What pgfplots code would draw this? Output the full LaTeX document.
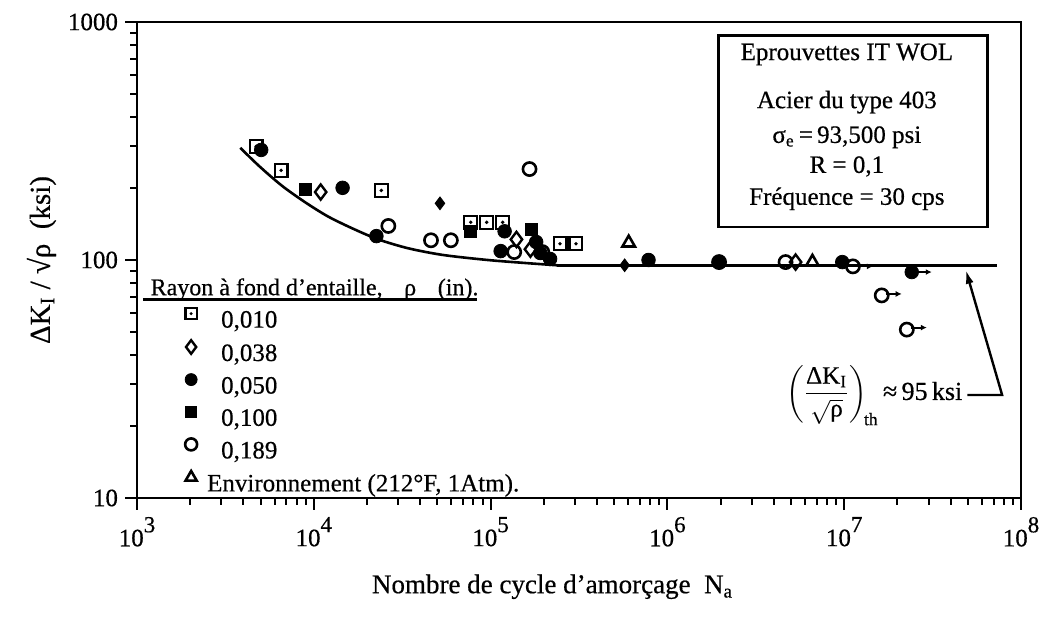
\documentclass[border=0pt]{standalone}
\usepackage{fontspec}
\setmainfont{Liberation Serif}[FakeBold=0.5]
\usepackage{amsmath}
\usepackage{pgfplots}
\pgfplotsset{compat=1.18}
\usetikzlibrary{arrows.meta}

\pgfdeclareplotmark{sqdot}{%
  \pgfpathrectangle{\pgfpoint{-\pgfplotmarksize}{-\pgfplotmarksize}}{\pgfpoint{2\pgfplotmarksize}{2\pgfplotmarksize}}%
  \pgfusepathqstroke
  \pgfpathcircle{\pgfpointorigin}{0.3\pgfplotmarksize}%
  \pgfusepathqfill}

\newcommand\pw[1]{10\raisebox{7pt}{\fontsize{11.5}{12}\selectfont #1}}

\begin{document}
\begin{tikzpicture}
\begin{axis}[
  at={(0,0)}, anchor=south west,
  scale only axis, width=442pt, height=238pt,
  xmode=log, ymode=log,
  xmin=1e3, xmax=1e8, ymin=10, ymax=1000,
  axis line style={line width=1.3pt},
  tick pos=left, tick align=outside,
  major tick length=6pt, minor tick length=3.5pt,
  every tick/.style={line width=1pt, black},
  xtick={1e3,1e4,1e5,1e6,1e7,1e8},
  xticklabels={\pw{3},\pw{4},\pw{5},\pw{6},\pw{7},\pw{8}},
  minor xtick={2e3,3e3,4e3,5e3,6e3,7e3,8e3,9e3,2e4,3e4,4e4,5e4,6e4,7e4,8e4,9e4,2e5,3e5,4e5,5e5,6e5,7e5,8e5,9e5,2e6,3e6,4e6,5e6,6e6,7e6,8e6,9e6,2e7,3e7,4e7,5e7,6e7,7e7,8e7,9e7},
  ytick={10,100,1000}, yticklabels={10,100,1000},
  minor ytick={20,30,40,50,60,70,80,90,200,300,400,500,600,700,800,900},
  tick label style={font=\fontsize{12.5}{14}\selectfont},
  xlabel={Nombre de cycle d'amorçage\ \ N\textsubscript{a}},
  xlabel style={at={(axis description cs:0.47,-0.2)}, anchor=base, font=\fontsize{13.5}{16}\selectfont},
  ylabel={ΔK\textsubscript{I} / √ρ\ \ (ksi)},
  ylabel style={at={(axis description cs:-0.108,0.5)}, anchor=center, font=\fontsize{14.5}{17}\selectfont},
  legend image code/.code={\draw[#1] plot coordinates {(0pt,4pt)};},
  legend cell align=left,
  legend style={draw=none, fill=none, at={(axis description cs:0.054,0.400)}, anchor=north west,
    inner sep=0pt, column sep=12pt, row sep=3.3pt,
    nodes={inner sep=0pt, text height=9pt, text depth=3pt},
    font=\fontsize{12.5}{15}\selectfont},
]
% threshold curve
\addplot[black, line width=1.3pt, smooth, forget plot] coordinates {
 (3840,296) (4910,248) (6610,205) (9020,174) (12100,152) (16800,135)
 (23200,122) (34200,112) (53700,105) (96200,100) (161000,97) (238000,95)};
\addplot[black, line width=1.3pt, forget plot] coordinates {(238000,95) (7.3e7,95)};

% run-out arrows
\foreach \px/\py in {1.12e7/94, 1.63e7/72, 2.41e7/89, 2.26e7/52}{
  \edef\tmp{\noexpand\draw[line width=1pt, -{Latex[length=3pt,width=3pt]}] ([xshift=2pt]axis cs:\px,\py) -- ([xshift=10pt]axis cs:\px,\py);}\tmp
}

% 0,010 open squares with dot
\addplot[only marks, mark=sqdot, mark size=3.2pt, line width=1.1pt, mark options={fill=black}, forget plot] coordinates {
 (4720,300) (6530,238) (24100,196) (77200,144) (95000,144) (117000,144) (247000,117) (304000,117)};
% 0,050 filled circles
\addplot[only marks, mark=*, mark size=3.4pt, forget plot] coordinates {
 (5040,290) (14550,201) (22600,126) (120000,132) (114000,109) (181000,119) (191000,107) (217000,101)
 (782000,100) (1.96e6,98) (9.75e6,98) (2.41e7,89)};
% 0,100 filled squares
\addplot[only marks, mark=square*, mark size=3.0pt, forget plot] coordinates {
 (9020,198) (77200,132) (170000,134)};
% small filled diamonds
\addplot[only marks, mark=diamond*, mark size=3.2pt, forget plot] coordinates {
 (51700,173) (5.73e5,95)};
% 0,038 open diamonds
\addplot[only marks, mark=diamond, mark size=3.8pt, line width=1.2pt, mark options={fill=white}, forget plot] coordinates {
 (10940,193) (140000,122) (168000,111) (5.31e6,98)};
% 0,189 open circles
\addplot[only marks, mark=o, mark size=3.3pt, line width=1.3pt, mark options={fill=white}, forget plot] coordinates {
 (26400,139) (46000,121) (59600,121) (136000,108) (196000,108) (166000,241)
 (1.96e6,98) (4.66e6,98) (1.12e7,94) (1.63e7,71) (2.26e7,51)};
% environment triangles
\addplot[only marks, mark=triangle, mark size=3.6pt, line width=1.3pt, mark options={fill=white}, forget plot] coordinates {
 (6.04e5,118) (6.61e6,98)};

% legend
\addlegendimage{only marks, mark=sqdot, mark size=2.8pt, line width=1.1pt, mark options={fill=black}}
\addlegendentry{0,010}
\addlegendimage{only marks, mark=diamond, mark size=3.4pt, line width=1.2pt}
\addlegendentry{0,038}
\addlegendimage{only marks, mark=*, mark size=3pt}
\addlegendentry{0,050}
\addlegendimage{only marks, mark=square*, mark size=2.8pt}
\addlegendentry{0,100}
\addlegendimage{only marks, mark=o, mark size=3pt, line width=1.3pt}
\addlegendentry{0,189}
\addlegendimage{only marks, mark=triangle, mark size=3.2pt, line width=1.3pt}
\addlegendentry{\hspace*{-7pt}Environnement (212°F, 1Atm).}

% legend title
\node[anchor=base west, inner sep=0pt, font=\fontsize{12}{14}\selectfont] at (axis description cs:0.015,0.426)
  {Rayon à fond d'entaille,\hspace{0.9em}ρ\hspace{0.9em}(in).};
\draw[line width=1.3pt] (axis description cs:0.0067,0.417) -- (axis description cs:0.385,0.417);

% info box
\draw[line width=1.3pt] (axis description cs:0.658,0.569) rectangle (axis description cs:0.962,0.972);
\begin{scope}[every node/.style={anchor=base, inner sep=0pt, font=\fontsize{12.5}{15}\selectfont}]
\node at (axis description cs:0.803,0.920) {Eprouvettes IT WOL};
\node at (axis description cs:0.803,0.819) {Acier du type 403};
\node at (axis description cs:0.803,0.746) {σ\textsubscript{e}\,=\,93,500 psi};
\node at (axis description cs:0.803,0.683) {R = 0,1};
\node at (axis description cs:0.803,0.616) {Fréquence = 30 cps};
\end{scope}

% threshold annotation
\node[anchor=base east, inner sep=0pt, font=\fontsize{13}{15}\selectfont] at (axis description cs:0.934,0.206)
  {{\fontsize{12.5}{14}\selectfont$\displaystyle\left(\frac{\text{ΔK}_{\text{I}}}{\sqrt{\text{ρ}}}\right)_{\!\text{th}}$}\,≈\,95\,ksi};
\draw[line width=1.2pt, -{Latex[length=7pt,width=4pt]}] (axis cs:4.98e7,27.1) -- (axis cs:7.82e7,27.1) -- (axis cs:4.87e7,91);
\end{axis}
\pgfresetboundingbox
\path (-68.5pt,-61.5pt) rectangle (453pt,249pt);
\end{tikzpicture}
\end{document}
